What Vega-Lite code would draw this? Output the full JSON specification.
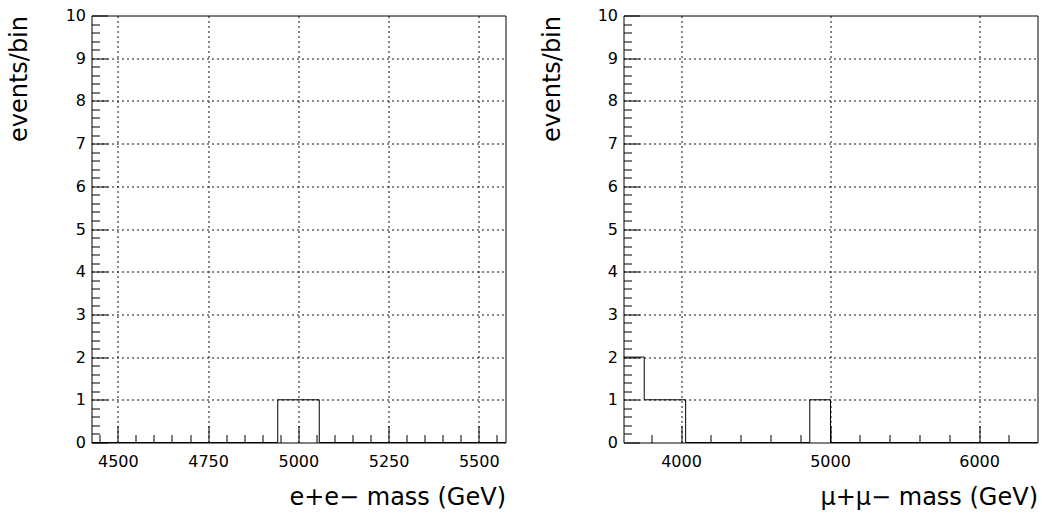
{
  "$schema": "https://vega.github.io/schema/vega-lite/v6.json",
  "background": "white",
  "padding": {"left": 6.5, "top": 6.5, "right": 0, "bottom": 0},
  "spacing": 118,
  "bounds": "flush",
  "config": {
    "font": "DejaVu Sans",
    "view": {"stroke": "black", "strokeWidth": 1},
    "axis": {
      "domain": false,
      "grid": true,
      "gridColor": "#111111",
      "gridDash": [2, 3],
      "gridWidth": 1,
      "tickColor": "black",
      "tickWidth": 1,
      "labelOverlap": false,
      "labelFont": "DejaVu Sans",
      "labelFontSize": 16,
      "labelColor": "black",
      "titleFont": "DejaVu Sans",
      "titleFontSize": 24,
      "titleFontWeight": "normal",
      "titleColor": "black"
    }
  },
  "datasets": {
    "ee": [
      {"mass": 4427, "events": 0},
      {"mass": 4943, "events": 1},
      {"mass": 5058, "events": 0},
      {"mass": 5574, "events": 0}
    ],
    "mumu": [
      {"mass": 3614, "events": 2},
      {"mass": 3753, "events": 1},
      {"mass": 3892, "events": 1},
      {"mass": 4031, "events": 0},
      {"mass": 4170, "events": 0},
      {"mass": 4309, "events": 0},
      {"mass": 4447, "events": 0},
      {"mass": 4586, "events": 0},
      {"mass": 4725, "events": 0},
      {"mass": 4864, "events": 1},
      {"mass": 5003, "events": 0},
      {"mass": 5142, "events": 0},
      {"mass": 5281, "events": 0},
      {"mass": 5420, "events": 0},
      {"mass": 5559, "events": 0},
      {"mass": 5698, "events": 0},
      {"mass": 5836, "events": 0},
      {"mass": 5975, "events": 0},
      {"mass": 6114, "events": 0},
      {"mass": 6253, "events": 0},
      {"mass": 6392, "events": 0}
    ]
  },
  "hconcat": [
    {
      "width": 414,
      "height": 427,
      "data": {"name": "ee"},
      "mark": {"type": "line", "interpolate": "step-after", "color": "black", "strokeWidth": 1, "clip": false},
      "encoding": {
        "x": {
          "field": "mass", "type": "quantitative",
          "scale": {"domain": [4427, 5574], "nice": false, "zero": false},
          "axis": {
            "title": "e+e− mass (GeV)",
            "tickCount": 100,
            "tickMinStep": 10,
            "values": [4450, 4500, 4550, 4600, 4650, 4700, 4750, 4800, 4850, 4900, 4950, 5000, 5050, 5100, 5150, 5200, 5250, 5300, 5350, 5400, 5450, 5500, 5550],
            "labelExpr": "datum.value % 250 === 0 ? format(datum.value, 'd') : ''",
            "tickSize": {"condition": {"test": "datum.value % 250 === 0", "value": -17}, "value": -8},
            "gridOpacity": {"condition": {"test": "datum.value % 250 === 0", "value": 1}, "value": 0},
            "labelPadding": 28,
            "titleAlign": "right",
            "titleAnchor": "end",
            "titleX": 414,
            "titleY": 62,
            "titleBaseline": "alphabetic"
          }
        },
        "y": {
          "field": "events", "type": "quantitative",
          "scale": {"domain": [0, 10], "nice": false},
          "axis": {
            "title": "events/bin",
            "tickCount": 100,
            "tickMinStep": 0.1,
            "values": [0, 0.2, 0.4, 0.6, 0.8, 1, 1.2, 1.4, 1.6, 1.8, 2, 2.2, 2.4, 2.6, 2.8, 3, 3.2, 3.4, 3.6, 3.8, 4, 4.2, 4.4, 4.6, 4.8, 5, 5.2, 5.4, 5.6, 5.8, 6, 6.2, 6.4, 6.6, 6.8, 7, 7.2, 7.4, 7.6, 7.8, 8, 8.2, 8.4, 8.6, 8.8, 9, 9.2, 9.4, 9.6, 9.8, 10],
            "labelExpr": "datum.value % 1 === 0 ? format(datum.value, 'd') : ''",
            "tickSize": {"condition": {"test": "datum.value % 1 === 0", "value": -16}, "value": -8},
            "gridOpacity": {"condition": {"test": "datum.value % 1 === 0 && datum.value > 0 && datum.value < 10", "value": 1}, "value": 0},
            "labelPadding": 22,
            "titleAngle": -90,
            "titleAlign": "right",
            "titleAnchor": "end",
            "titleX": -65,
            "titleY": 0,
            "titleBaseline": "alphabetic"
          }
        }
      }
    },
    {
      "width": 414,
      "height": 427,
      "data": {"name": "mumu"},
      "mark": {"type": "line", "interpolate": "step-after", "color": "black", "strokeWidth": 1, "clip": false},
      "encoding": {
        "x": {
          "field": "mass", "type": "quantitative",
          "scale": {"domain": [3614, 6392], "nice": false, "zero": false},
          "axis": {
            "title": "μ+μ− mass (GeV)",
            "tickCount": 100,
            "tickMinStep": 10,
            "values": [3800, 4000, 4200, 4400, 4600, 4800, 5000, 5200, 5400, 5600, 5800, 6000, 6200],
            "labelExpr": "datum.value % 1000 === 0 ? format(datum.value, 'd') : ''",
            "tickSize": {"condition": {"test": "datum.value % 1000 === 0", "value": -17}, "value": -8},
            "gridOpacity": {"condition": {"test": "datum.value % 1000 === 0", "value": 1}, "value": 0},
            "labelPadding": 28,
            "titleAlign": "right",
            "titleAnchor": "end",
            "titleX": 414,
            "titleY": 62,
            "titleBaseline": "alphabetic"
          }
        },
        "y": {
          "field": "events", "type": "quantitative",
          "scale": {"domain": [0, 10], "nice": false},
          "axis": {
            "title": "events/bin",
            "tickCount": 100,
            "tickMinStep": 0.1,
            "values": [0, 0.2, 0.4, 0.6, 0.8, 1, 1.2, 1.4, 1.6, 1.8, 2, 2.2, 2.4, 2.6, 2.8, 3, 3.2, 3.4, 3.6, 3.8, 4, 4.2, 4.4, 4.6, 4.8, 5, 5.2, 5.4, 5.6, 5.8, 6, 6.2, 6.4, 6.6, 6.8, 7, 7.2, 7.4, 7.6, 7.8, 8, 8.2, 8.4, 8.6, 8.8, 9, 9.2, 9.4, 9.6, 9.8, 10],
            "labelExpr": "datum.value % 1 === 0 ? format(datum.value, 'd') : ''",
            "tickSize": {"condition": {"test": "datum.value % 1 === 0", "value": -16}, "value": -8},
            "gridOpacity": {"condition": {"test": "datum.value % 1 === 0 && datum.value > 0 && datum.value < 10", "value": 1}, "value": 0},
            "labelPadding": 22,
            "titleAngle": -90,
            "titleAlign": "right",
            "titleAnchor": "end",
            "titleX": -64,
            "titleY": 0,
            "titleBaseline": "alphabetic"
          }
        }
      }
    }
  ]
}
